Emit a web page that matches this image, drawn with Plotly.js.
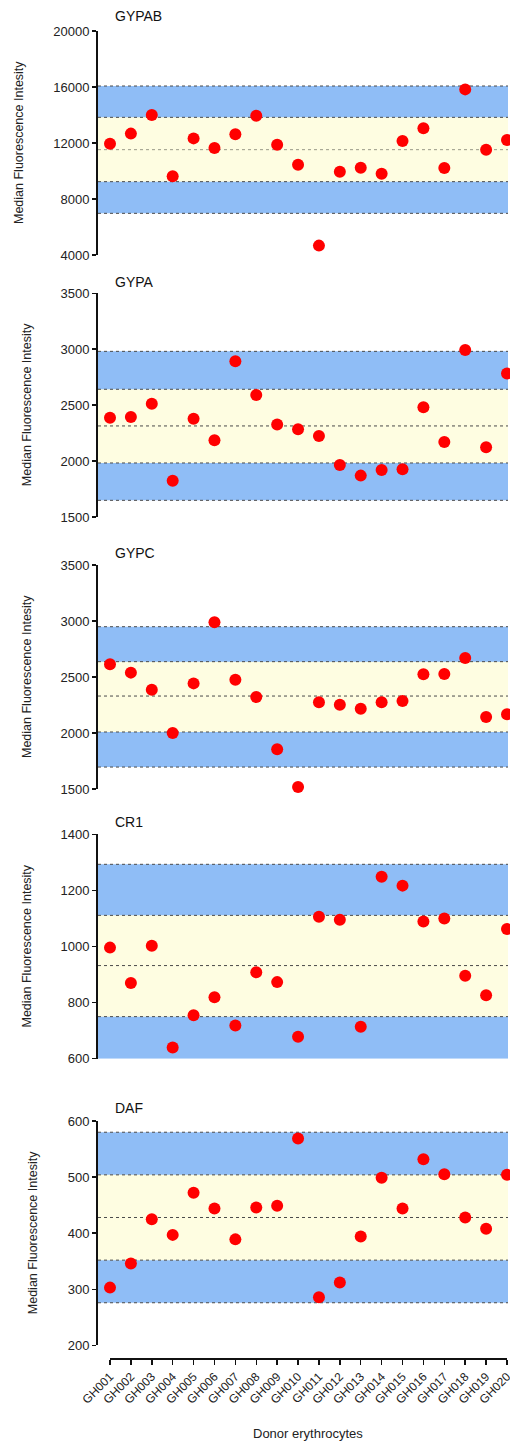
<!DOCTYPE html>
<html>
<head>
<meta charset="utf-8">
<script src="https://cdn.plot.ly/plotly-3.0.1.min.js"></script>
<style>html,body{margin:0;padding:0;background:#fff;}#chart{width:510px;height:1443px;}</style>
</head>
<body>
<div id="chart"></div>
<script>
const donors = ['GH001','GH002','GH003','GH004','GH005','GH006','GH007','GH008','GH009','GH010',
                'GH011','GH012','GH013','GH014','GH015','GH016','GH017','GH018','GH019','GH020'];

const panelNames = ['GYPAB','GYPA','GYPC','CR1','DAF'];

const gypab = [11950,12670,14000,9620,12330,11640,12620,13950,11880,10450,4670,9950,10240,9810,12140,13050,10210,15830,11520,12210];
const gypa  = [2388,2394,2513,1825,2379,2186,2892,2591,2326,2284,2224,1965,1870,1920,1926,2481,2171,2993,2123,2782];
const gypc  = [2613,2539,2387,2000,2443,2988,2476,2321,1854,1518,2274,2253,2217,2274,2286,2524,2527,2670,2143,2167];
const cr1   = [996,870,1003,640,755,819,718,908,873,678,1106,1095,714,1249,1217,1089,1100,896,826,1062];
const daf   = [303,346,425,397,472,444,389,446,449,569,286,312,394,499,444,532,505,428,408,504];

// reference band levels: [mean-2SD, mean-1SD, mean, mean+1SD, mean+2SD]
const gypabBands = [6976, 9238, 11524, 13833, 16071];
const gypaBands  = [1649, 1983, 2314, 2642, 2981];
const gypcBands  = [1696, 2009, 2330, 2637, 2949];
const cr1Bands   = [570, 750, 932, 1111, 1293];
const dafBands   = [276, 352, 428, 504, 580];

const yTitle = 'Median Fluorescence Intesity';
const xTitle = 'Donor erythrocytes';

const series = [gypab, gypa, gypc, cr1, daf];
const bands = [gypabBands, gypaBands, gypcBands, cr1Bands, dafBands];
const yRanges = [[4000,20000],[1500,3500],[1500,3500],[600,1400],[200,600]];
const yDticks = [4000, 500, 500, 200, 100];

const W = 510, H = 1443;
const px = v => v / W;
const py = v => 1 - v / H;

const domainsPx = [[31,255],[293.3,517],[565,789],[834.3,1058.7],[1121,1345.4]];
const yTitleX = [19, 27, 27, 27, 33];
const titleY = [16, 282, 553, 822, 1108];

const font = 'Liberation Sans, Arial, sans-serif';
const blue = '#8fbdf6';
const yellow = '#fefde1';
const dotColor = '#4a4a4a';

const traces = [];
const shapes = [];
const annotations = [];
const layout = {
  width: W, height: H,
  margin: {l:0, r:0, t:0, b:0},
  paper_bgcolor: '#fff', plot_bgcolor: 'rgba(0,0,0,0)',
  showlegend: false,
  font: {family: font, color: '#222', size: 13},
  xaxis: {
    type: 'category',
    categoryarray: donors, categoryorder: 'array',
    domain: [px(110), px(507)],
    range: [0, donors.length - 1],
    anchor: 'free', position: py(1359),
    showline: true, linecolor: '#111', linewidth: 2,
    ticks: 'outside', ticklen: 5, tickwidth: 1.5, tickcolor: '#111',
    tickangle: -45, tickfont: {size: 12, family: font, color: '#222'},
    showgrid: false, zeroline: false, fixedrange: true
  }
};

series.forEach((vals, i) => {
  const yName = i === 0 ? 'y' : 'y' + (i + 1);
  const yKey = i === 0 ? 'yaxis' : 'yaxis' + (i + 1);
  const d = domainsPx[i];
  const r = yRanges[i];
  layout[yKey] = {
    domain: [py(d[1]), py(d[0])],
    range: r,
    dtick: yDticks[i], tick0: r[0], tickformat: 'd',
    anchor: 'free', position: px(97),
    showline: true, linecolor: '#111', linewidth: 2,
    ticks: 'outside', ticklen: 4, tickwidth: 1.5, tickcolor: '#111',
    tickfont: {size: 13, family: font, color: '#222'},
    showgrid: false, zeroline: false, fixedrange: true
  };
  traces.push({
    type: 'scatter', mode: 'markers',
    x: donors, y: vals,
    xaxis: 'x', yaxis: yName,
    cliponaxis: false,
    marker: {color: '#ff0000', size: 12, line: {width: 0}},
    hoverinfo: 'x+y'
  });
  const b = bands[i].map(v => Math.max(v, r[0]));
  const x0 = px(98), x1 = px(508);
  shapes.push({type:'rect', xref:'paper', yref:yName, x0, x1, y0:b[0], y1:b[4], fillcolor:blue, line:{width:0}, layer:'below'});
  shapes.push({type:'rect', xref:'paper', yref:yName, x0, x1, y0:b[1], y1:b[3], fillcolor:yellow, line:{width:0}, layer:'below'});
  bands[i].forEach((v, k) => {
    if (v < r[0]) return;
    shapes.push({type:'line', xref:'paper', yref:yName, x0, x1, y0:v, y1:v,
      line:{color: (i === 0 && k === 2) ? '#9a9a88' : dotColor, width:1, dash:'dot'}, layer:'below'});
  });
  annotations.push({
    text: panelNames[i], xref:'paper', yref:'paper',
    x: px(113), y: py(titleY[i]), xanchor:'left', yanchor:'middle',
    showarrow:false, font:{size:14, family:font, color:'#111'}
  });
  annotations.push({
    text: yTitle, xref:'paper', yref:'paper',
    x: px(yTitleX[i]), y: py((d[0]+d[1])/2), xanchor:'center', yanchor:'middle',
    textangle: -90, showarrow:false, font:{size:12.5, family:font, color:'#222'}
  });
});

annotations.push({
  text: xTitle, xref:'paper', yref:'paper',
  x: px(308), y: py(1433), xanchor:'center', yanchor:'middle',
  showarrow:false, font:{size:13, family:font, color:'#222'}
});

layout.shapes = shapes;
layout.annotations = annotations;

Plotly.newPlot('chart', traces, layout, {displayModeBar:false, staticPlot:true});
</script>
</body>
</html>
